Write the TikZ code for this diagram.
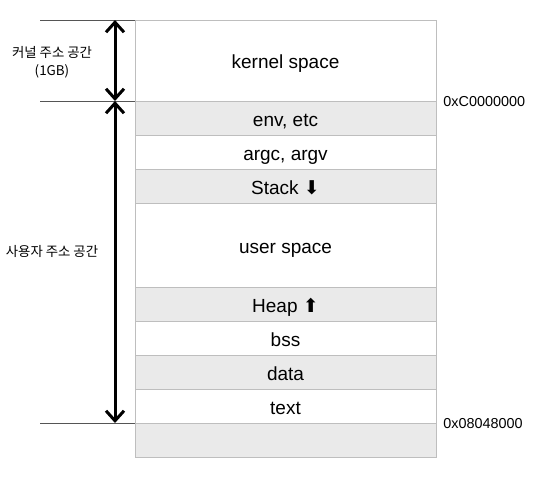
\documentclass[tikz,border=0pt]{standalone}
\usepackage{fontspec}
\setmainfont{Liberation Sans}
\newfontfamily\kofont{Noto Sans CJK KR}
\newfontfamily\symfont{DejaVu Sans}
\usetikzlibrary{positioning,arrows.meta}
\definecolor{rowgray}{RGB}{234,234,234}
\definecolor{rowline}{RGB}{190,190,190}
\definecolor{markline}{RGB}{85,85,85}

\tikzset{
  seg/.style={draw=rowline, minimum width=150.5pt, minimum height=17pt,
    inner sep=0pt, outer sep=0pt, text height=0.9em, text depth=0.1em,
    font=\fontsize{9.5}{11}\selectfont},
  segfill/.style={seg, fill=rowgray},
  addr/.style={anchor=west, inner sep=0pt, font=\fontsize{7.2}{9}\selectfont},
  kolabel/.style={inner sep=0pt, align=center, font=\kofont\fontsize{6.7}{9}\selectfont},
  tick/.style={markline, line width=0.5pt},
  span/.style={line width=1.5pt, {Straight Barb[length=5pt,width=9pt,line width=1.5pt]}-{Straight Barb[length=5pt,width=9pt,line width=1.5pt]}}
}

\begin{document}
\begin{tikzpicture}[x=0.5pt,y=-0.5pt]
  \useasboundingbox (0,0) rectangle (546,477);
  % memory layout, top to bottom
  \node[seg, minimum height=40.5pt, anchor=north] (kernel) at (285.5,20) {kernel space};
  \node[segfill, below=0pt of kernel] (env) {env, etc};
  \node[seg, below=0pt of env] (args) {argc, argv};
  \node[segfill, below=0pt of args] (stack) {Stack {\symfont\char"2B07}};
  \node[seg, minimum height=42pt, below=0pt of stack] (user) {user space};
  \node[segfill, below=0pt of user] (heap) {Heap {\symfont\char"2B06}};
  \node[seg, below=0pt of heap] (bss) {bss};
  \node[segfill, below=0pt of bss] (data) {data};
  \node[seg, below=0pt of data] (text) {text};
  \node[segfill, below=0pt of text] (rest) {};
  % addresses
  \node[addr] (kaddr) at ([xshift=3.5pt,yshift=-0.5pt]env.north east) {0xC0000000};
  \node[addr] (taddr) at ([xshift=3.5pt,yshift=-0.5pt]rest.north east) {0x08048000};
  % boundary ticks
  \coordinate (tickend) at (40,0);
  \coordinate (axis) at (115,0);
  \draw[tick] (kernel.north west) -- (kernel.north west -| tickend);
  \draw[tick] (env.north west) -- (env.north west -| tickend);
  \draw[tick] (rest.north west) -- (rest.north west -| tickend);
  % spans
  \draw[span] (kernel.north west -| axis) -- (env.north west -| axis);
  \draw[span] (env.north west -| axis) -- (rest.north west -| axis);
  \node[kolabel] (klabel) at (52,62) {커널 주소 공간\\(1GB)};
  \node[kolabel] (ulabel) at (52,251) {사용자 주소 공간};
\end{tikzpicture}
\end{document}
